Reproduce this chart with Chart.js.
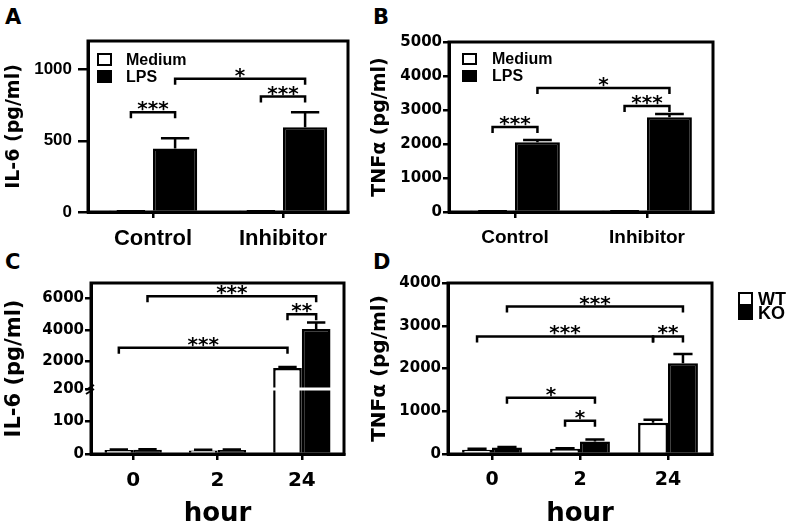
<!DOCTYPE html>
<html>
<head>
<meta charset="utf-8">
<script src="https://cdn.jsdelivr.net/npm/chart.js@4.4.1/dist/chart.umd.min.js"></script>
<style>
  body { margin: 0; background: #fff; width: 800px; height: 528px; position: relative; overflow: hidden; }
  canvas { position: absolute; }
  .panel { position: absolute; font: bold 21px "DejaVu Sans"; color: #000; }
</style>
</head>
<body>
<div class="panel" style="left:5px;top:5px">A</div>
<div class="panel" style="left:373px;top:5px">B</div>
<div class="panel" style="left:5px;top:250px">C</div>
<div class="panel" style="left:373px;top:250px">D</div>
<canvas id="chartA" width="360" height="264" style="left:0;top:0"></canvas>
<canvas id="chartB" width="440" height="264" style="left:360px;top:0"></canvas>
<canvas id="chartC" width="360" height="264" style="left:0;top:264px"></canvas>
<canvas id="chartD" width="440" height="264" style="left:360px;top:264px"></canvas>
<script>
// ---- data ----
var treatments = ["Control", "Inhibitor"];
var il6Medium = [5, 5];
var il6MediumErr = [1, 1];
var il6Lps = [445, 595];
var il6LpsErr = [72, 105];
var tnfMedium = [20, 15];
var tnfMediumErr = [5, 5];
var tnfLps = [2050, 2790];
var tnfLpsErr = [65, 90];

var hours = ["0", "2", "24"];
var il6Wt = [12, 11, 1550];
var il6WtErr = [2, 2, 60];
var il6Ko = [13, 12, 4050];
var il6KoErr = [2, 2, 420];
var tnfWt = [100, 120, 730];
var tnfWtErr = [20, 15, 70];
var tnfKo = [150, 290, 2120];
var tnfKoErr = [15, 50, 220];

var ticksA = [0, 500, 1000];
var ticksB = [0, 1000, 2000, 3000, 4000, 5000];
var ticksC = [0, 100, 200, 2000, 4000, 6000];
var ticksD = [0, 1000, 2000, 3000, 4000];

// significance brackets: from/to = [dataset, category]
var sigA = [
  { from: [0, 0], to: [1, 0], y: 700, text: "***" },
  { from: [1, 0], to: [1, 1], y: 935, text: "*" },
  { from: [0, 1], to: [1, 1], y: 810, text: "***" }
];
var sigB = [
  { from: [0, 0], to: [1, 0], y: 2500, text: "***" },
  { from: [1, 0], to: [1, 1], y: 3650, text: "*" },
  { from: [0, 1], to: [1, 1], y: 3120, text: "***" }
];
var sigC = [
  { from: [0, 0], to: [0, 2], y: 2850, text: "***" },
  { from: [1, 0], to: [1, 2], y: 6150, text: "***" },
  { from: [0, 2], to: [1, 2], y: 5000, text: "**" }
];
var sigD = [
  { from: [1, 0], to: [1, 2], y: 3450, text: "***" },
  { from: [0, 0], to: [0, 2], y: 2750, text: "***" },
  { from: [0, 2], to: [1, 2], y: 2750, text: "**" },
  { from: [1, 0], to: [1, 1], y: 1315, text: "*" },
  { from: [0, 1], to: [1, 1], y: 775, text: "*" }
];

Chart.defaults.font.family = "'DejaVu Sans', sans-serif";
Chart.defaults.font.weight = "bold";
Chart.defaults.color = "#000";

// y axis with a break: lower part 0..breakAt takes breakFraction of the height
class BrokenScale extends Chart.LinearScale {
  getPixelForValue(v) {
    var b = this.options.breakAt, f = this.options.breakFraction;
    var h = this.bottom - this.top;
    if (v <= b) return this.bottom - (v - this.min) / (b - this.min) * h * f;
    return this.bottom - h * f - (v - b) / (this.max - b) * h * (1 - f);
  }
  getValueForPixel(p) {
    var b = this.options.breakAt, f = this.options.breakFraction;
    var h = this.bottom - this.top, d = this.bottom - p;
    if (d <= h * f) return this.min + d / (h * f) * (b - this.min);
    return b + (d - h * f) / (h * (1 - f)) * (this.max - b);
  }
}
BrokenScale.id = "broken";
BrokenScale.defaults = Chart.LinearScale.defaults;
Chart.register(BrokenScale);

var errorBars = {
  id: "errorBars",
  afterDatasetsDraw: function (chart) {
    var ctx = chart.ctx;
    ctx.save();
    ctx.strokeStyle = "#000";
    ctx.lineWidth = 2.5;
    chart.data.datasets.forEach(function (ds, i) {
      var meta = chart.getDatasetMeta(i);
      var ys = chart.scales[meta.yAxisID];
      meta.data.forEach(function (el, j) {
        var top = ys.getPixelForValue(ds.data[j] + ds.err[j]);
        var half = el.width * 0.32;
        ctx.beginPath();
        ctx.moveTo(el.x, el.y);
        ctx.lineTo(el.x, top);
        ctx.moveTo(el.x - half, top);
        ctx.lineTo(el.x + half, top);
        ctx.stroke();
      });
    });
    ctx.restore();
  }
};

var brackets = {
  id: "brackets",
  afterDatasetsDraw: function (chart, args, opts) {
    var ctx = chart.ctx, ys = chart.scales.y;
    ctx.save();
    ctx.lineWidth = 2.5;
    ctx.strokeStyle = "#000";
    ctx.fillStyle = "#000";
    ctx.font = "bold 20px 'DejaVu Sans'";
    ctx.textAlign = "center";
    ctx.textBaseline = "alphabetic";
    (opts.items || []).forEach(function (b) {
      var x1 = chart.getDatasetMeta(b.from[0]).data[b.from[1]].x;
      var x2 = chart.getDatasetMeta(b.to[0]).data[b.to[1]].x;
      var y = ys.getPixelForValue(b.y);
      ctx.beginPath();
      ctx.moveTo(x1, y + 6);
      ctx.lineTo(x1, y);
      ctx.lineTo(x2, y);
      ctx.lineTo(x2, y + 6);
      ctx.stroke();
      ctx.fillText(b.text, (x1 + x2) / 2, y + 3);
    });
    ctx.restore();
  }
};

var axisBreak = {
  id: "axisBreak",
  afterDatasetsDraw: function (chart, args, opts) {
    if (opts.at == null) return;
    var ctx = chart.ctx, a = chart.chartArea;
    var y = chart.scales.y.getPixelForValue(opts.at);
    ctx.save();
    ctx.strokeStyle = "#fff";
    ctx.lineWidth = 3;
    ctx.beginPath();
    ctx.moveTo(a.left + 2, y);
    ctx.lineTo(a.right - 2, y);
    ctx.stroke();
    ctx.strokeStyle = "#000";
    ctx.lineWidth = 2;
    ctx.beginPath();
    ctx.moveTo(a.left - 5, y + 1);
    ctx.lineTo(a.left + 3, y - 4);
    ctx.moveTo(a.left - 5, y + 5);
    ctx.lineTo(a.left + 3, y);
    ctx.stroke();
    ctx.restore();
  }
};

var frame = {
  id: "frame",
  afterDraw: function (chart) {
    var ctx = chart.ctx, a = chart.chartArea;
    ctx.save();
    ctx.strokeStyle = "#000";
    ctx.lineWidth = 3;
    ctx.strokeRect(a.left, a.top, a.right - a.left, a.bottom - a.top);
    ctx.restore();
  }
};

var boxLegend = {
  id: "boxLegend",
  afterDraw: function (chart, args, o) {
    if (!o.show) return;
    var ctx = chart.ctx, a = chart.chartArea;
    var x = (o.side === "right" ? a.right : a.left) + o.dx;
    var y = a.top + o.dy;
    ctx.save();
    ctx.font = "bold " + o.size + "px 'Liberation Sans'";
    ctx.textBaseline = "middle";
    ctx.lineWidth = 2;
    chart.data.datasets.forEach(function (ds, i) {
      var top = y + i * o.row;
      ctx.fillStyle = ds.backgroundColor;
      ctx.fillRect(x, top, 15, o.box);
      ctx.strokeStyle = "#000";
      ctx.strokeRect(x + 1, top + 1, 13, o.box - 2);
      ctx.fillStyle = "#000";
      ctx.fillText(ds.label, x + 15 + o.gap, top + o.box / 2 + 1);
    });
    ctx.restore();
  }
};

function bars(label, data, err, fill) {
  return {
    label: label, data: data, err: err,
    backgroundColor: fill, borderColor: "#000", borderWidth: 2.5,
    categoryPercentage: 0.68, barPercentage: 1
  };
}

function axisY(o) {
  return {
    type: o.type || "linear", min: o.min, max: o.max,
    breakAt: o.breakAt, breakFraction: o.breakFraction,
    afterBuildTicks: function (s) { s.ticks = o.ticks.map(function (v) { return { value: v }; }); },
    afterFit: function (s) { s.width = o.width; },
    ticks: { font: o.tickFont, padding: o.pad, callback: function (v) { return String(v); } },
    grid: { drawOnChartArea: false, tickLength: o.tickLen, lineWidth: 2.5, color: "#000" },
    border: { width: 3, color: "#000" },
    title: { display: true, text: o.title, font: o.titleFont, padding: { top: o.titlePad, bottom: 0 } }
  };
}

function axisX(o) {
  return {
    offset: true,
    afterFit: function (s) { s.height = o.height; },
    ticks: { font: o.font, padding: o.pad, maxRotation: 0 },
    grid: { offset: false, drawOnChartArea: false, tickLength: 6, lineWidth: 2.5, color: "#000" },
    border: { width: 3, color: "#000" },
    title: {
      display: !!o.title, text: o.title,
      font: { size: 26, weight: "bold", lineHeight: 1 },
      padding: { top: 0, bottom: 1 }
    }
  };
}

function makeChart(id, labels, datasets, padding, x, y, sig, legend, brk) {
  return new Chart(document.getElementById(id), {
    type: "bar",
    data: { labels: labels, datasets: datasets },
    options: {
      responsive: false,
      animation: false,
      layout: { padding: padding },
      scales: { x: axisX(x), y: axisY(y) },
      plugins: {
        legend: { display: false },
        tooltip: { enabled: false },
        brackets: { items: sig },
        boxLegend: legend,
        axisBreak: brk || {}
      }
    },
    plugins: [errorBars, brackets, axisBreak, frame, boxLegend]
  });
}

makeChart("chartA", treatments,
  [bars("Medium", il6Medium, il6MediumErr, "#fff"), bars("LPS", il6Lps, il6LpsErr, "#000")],
  { left: 0, top: 41, right: 12, bottom: 0 },
  { height: 52, pad: 8, font: { family: "'Liberation Sans'", size: 22, weight: "bold" } },
  { min: 0, max: 1200, ticks: ticksA, width: 88, pad: 6, tickLen: 10,
    tickFont: { family: "'Liberation Sans'", size: 17, weight: "bold" },
    title: "IL-6 (pg/ml)", titleFont: { size: 19, weight: "bold" }, titlePad: 3 },
  sigA,
  { show: true, side: "left", dx: 9, dy: 12, row: 17, box: 13, gap: 14, size: 16 });

makeChart("chartB", treatments,
  [bars("Medium", tnfMedium, tnfMediumErr, "#fff"), bars("LPS", tnfLps, tnfLpsErr, "#000")],
  { left: 0, top: 42, right: 87, bottom: 0 },
  { height: 52, pad: 8, font: { family: "'Liberation Sans'", size: 19, weight: "bold" } },
  { min: 0, max: 5000, ticks: ticksB, width: 89, pad: 1, tickLen: 6,
    tickFont: { size: 15, weight: "bold" },
    title: "TNFα (pg/ml)", titleFont: { size: 19, weight: "bold" }, titlePad: 9 },
  sigB,
  { show: true, side: "left", dx: 13, dy: 11, row: 17, box: 12, gap: 15, size: 16 });

makeChart("chartC", hours,
  [bars("WT", il6Wt, il6WtErr, "#fff"), bars("KO", il6Ko, il6KoErr, "#000")],
  { left: 0, top: 19, right: 16, bottom: 0 },
  { height: 74, pad: 9, font: { size: 20, weight: "bold" }, title: "hour" },
  { type: "broken", min: 0, max: 7000, breakAt: 200, breakFraction: 0.38,
    ticks: ticksC, width: 91, pad: 1, tickLen: 6,
    tickFont: { size: 15, weight: "bold" },
    title: "IL-6 (pg/ml)", titleFont: { size: 21, weight: "bold" }, titlePad: 2 },
  sigC,
  { show: false },
  { at: 200 });

makeChart("chartD", hours,
  [bars("WT", tnfWt, tnfWtErr, "#fff"), bars("KO", tnfKo, tnfKoErr, "#000")],
  { left: 0, top: 19, right: 88, bottom: 0 },
  { height: 74, pad: 9, font: { size: 19, weight: "bold" }, title: "hour" },
  { min: 0, max: 4000, ticks: ticksD, width: 88, pad: 1, tickLen: 6,
    tickFont: { size: 15, weight: "bold" },
    title: "TNFα (pg/ml)", titleFont: { size: 20, weight: "bold" }, titlePad: 8 },
  sigD,
  { show: true, side: "right", dx: 26, dy: 9, row: 14, box: 14, gap: 5, size: 18 });
</script>
</body>
</html>
